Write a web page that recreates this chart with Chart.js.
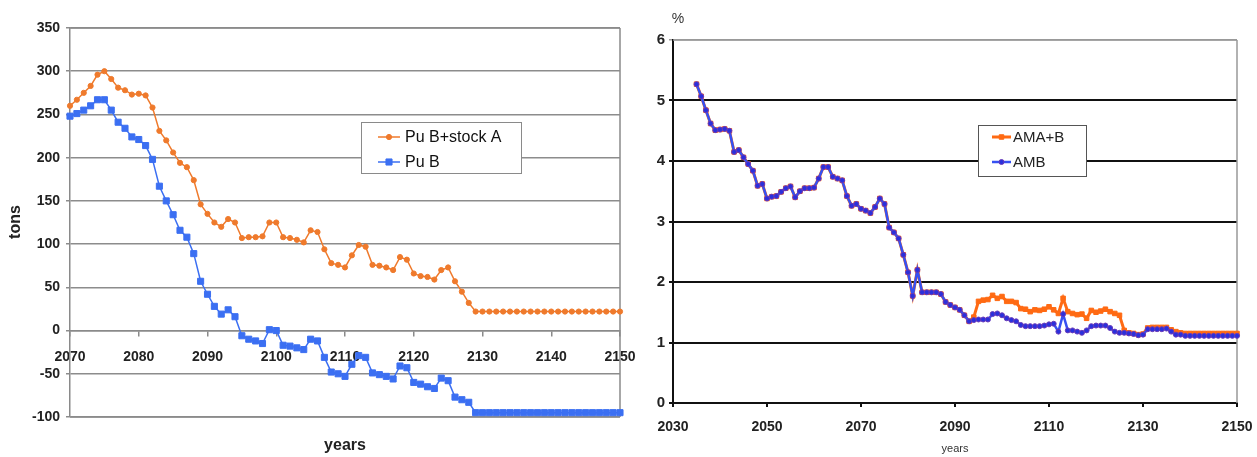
<!DOCTYPE html>
<html><head><meta charset="utf-8">
<script src="https://cdn.jsdelivr.net/npm/chart.js@4.4.1/dist/chart.umd.min.js"></script>
<style>
html,body{margin:0;padding:0;background:#fff;width:1257px;height:457px;overflow:hidden}
#c1{position:absolute;left:0;top:0;width:645px;height:457px}
#c2{position:absolute;left:640px;top:0;width:617px;height:457px}
</style></head><body>
<canvas id="c1" width="645" height="457"></canvas>
<canvas id="c2" width="617" height="457"></canvas>
<script>
// ---------- LEFT CHART DATA (tons) ----------
const leftYears = Array.from({length: 81}, (_, i) => 2070 + i);
const puBStockA = [
  260,267,275,283,296,300,291,281,278,273,
  274,272,258,231,220,206,194,189,174,146,
  135,125,120,129,125,107,108,108,109,125,
  125,108,107,105,102,116,114,94,78,76,
  73,87,99,97,76,75,73,70,85,82,
  66,63,62,59,70,73,57,45,32,22,
  22,22,22,22,22,22,22,22,22,22,
  22,22,22,22,22,22,22,22,22,22,22
];
const puB = [
  248,251,255,260,267,267,255,241,234,224,
  221,214,198,167,150,134,116,108,89,57,
  42,28,19,24,16,-6,-10,-12,-15,1,
  0,-17,-18,-20,-22,-10,-12,-31,-48,-50,
  -53,-39,-29,-31,-49,-51,-53,-56,-41,-43,
  -60,-62,-65,-67,-55,-58,-77,-80,-83,-95,
  -95,-95,-95,-95,-95,-95,-95,-95,-95,-95,
  -95,-95,-95,-95,-95,-95,-95,-95,-95,-95,-95
];
const leftLabels = ['Pu B+stock A', 'Pu B'];

// ---------- RIGHT CHART DATA (%) ----------
const rightYears = Array.from({length: 116}, (_, i) => 2035 + i);
const amaB = [
  5.27,5.07,4.84,4.62,4.51,4.52,4.53,4.50,4.15,4.18,
  4.06,3.95,3.84,3.59,3.62,3.38,3.41,3.42,3.49,3.55,
  3.58,3.40,3.50,3.55,3.55,3.56,3.71,3.90,3.90,3.74,
  3.71,3.68,3.42,3.26,3.29,3.21,3.18,3.14,3.24,3.38,
  3.29,2.90,2.82,2.72,2.45,2.16,1.77,2.20,1.83,1.83,
  1.83,1.83,1.80,1.67,1.62,1.58,1.54,1.45,1.35,1.42,
  1.68,1.70,1.71,1.78,1.73,1.76,1.68,1.68,1.66,1.56,
  1.55,1.51,1.54,1.53,1.55,1.59,1.54,1.48,1.73,1.51,
  1.48,1.46,1.47,1.40,1.53,1.50,1.52,1.55,1.51,1.48,
  1.45,1.20,1.16,1.15,1.13,1.14,1.24,1.25,1.25,1.25,
  1.25,1.21,1.18,1.16,1.15,1.15,1.15,1.15,1.15,1.15,
  1.15,1.15,1.15,1.15,1.15,1.15
];
const amb = [
  5.27,5.07,4.84,4.62,4.51,4.52,4.53,4.50,4.15,4.18,
  4.06,3.95,3.84,3.59,3.62,3.38,3.41,3.42,3.49,3.55,
  3.58,3.40,3.50,3.55,3.55,3.56,3.71,3.90,3.90,3.74,
  3.71,3.68,3.42,3.26,3.29,3.21,3.18,3.14,3.24,3.38,
  3.29,2.90,2.82,2.72,2.45,2.16,1.77,2.20,1.83,1.83,
  1.83,1.83,1.80,1.67,1.62,1.58,1.54,1.45,1.35,1.37,
  1.38,1.38,1.38,1.47,1.48,1.45,1.40,1.37,1.35,1.29,
  1.27,1.27,1.27,1.27,1.28,1.30,1.31,1.18,1.47,1.20,
  1.20,1.18,1.16,1.20,1.27,1.28,1.28,1.28,1.24,1.18,
  1.16,1.16,1.15,1.14,1.12,1.13,1.22,1.22,1.22,1.22,
  1.23,1.18,1.13,1.13,1.11,1.11,1.11,1.11,1.11,1.11,
  1.11,1.11,1.11,1.11,1.11,1.11
];
const rightLabels = ['AMA+B', 'AMB'];

const SANS = 'Arial, "Liberation Sans", sans-serif';
Chart.defaults.font.family = SANS;

function pts(xs, ys) { return xs.map((x, i) => ({x: x, y: ys[i]})); }
function noSidePad(s) { s.paddingLeft = 0; s.paddingRight = 0; }

const boxLegend = {
  id: 'boxLegend',
  afterDraw(chart, args, o) {
    const ctx = chart.ctx, b = o.box;
    ctx.save();
    ctx.fillStyle = '#fff';
    ctx.fillRect(b.x, b.y, b.w, b.h);
    ctx.strokeStyle = o.borderColor; ctx.lineWidth = 1;
    ctx.strokeRect(b.x + 0.5, b.y + 0.5, b.w, b.h);
    chart.data.datasets.forEach((ds, i) => {
      const y = b.y + o.rows[i];
      ctx.strokeStyle = ds.borderColor; ctx.lineWidth = ds.borderWidth;
      ctx.beginPath(); ctx.moveTo(b.x + o.x0, y); ctx.lineTo(b.x + o.x1, y); ctx.stroke();
      ctx.fillStyle = ds.pointBackgroundColor; ctx.strokeStyle = ds.pointBorderColor; ctx.lineWidth = ds.pointBorderWidth;
      Chart.helpers.drawPoint(ctx, {pointStyle: ds.pointStyle, radius: ds.pointRadius, borderWidth: ds.pointBorderWidth, rotation: 0}, b.x + (o.x0 + o.x1) / 2, y);
      ctx.fillStyle = o.color; ctx.font = o.font; ctx.textBaseline = 'middle'; ctx.textAlign = 'left';
      ctx.fillText(ds.label, b.x + o.tx, y + 1);
    });
    ctx.restore();
  }
};

const extraText = {
  id: 'extraText',
  afterDraw(chart, args, o) {
    const ctx = chart.ctx;
    (o.items || []).forEach(t => {
      ctx.save();
      ctx.translate(t.x, t.y);
      if (t.rot) ctx.rotate(t.rot);
      ctx.font = t.font; ctx.fillStyle = t.color || '#222';
      ctx.textAlign = 'center'; ctx.textBaseline = 'middle';
      ctx.fillText(t.text, 0, 0);
      ctx.restore();
    });
  }
};

const plotFrame = {
  id: 'plotFrame',
  beforeDatasetsDraw(chart, args, o) {
    const ctx = chart.ctx, a = chart.chartArea;
    ctx.save();
    ctx.strokeStyle = o.color; ctx.lineWidth = o.width;
    ctx.beginPath();
    if (o.sides.includes('top')) { ctx.moveTo(a.left, a.top); ctx.lineTo(a.right, a.top); }
    if (o.sides.includes('right')) { ctx.moveTo(a.right, a.top); ctx.lineTo(a.right, a.bottom); }
    if (o.sides.includes('bottom')) { ctx.moveTo(a.left, a.bottom); ctx.lineTo(a.right, a.bottom); }
    ctx.stroke();
    ctx.restore();
  }
};

// ---------- LEFT CHART ----------
new Chart(document.getElementById('c1'), {
  type: 'line',
  data: {
    datasets: [
      {label: leftLabels[0], data: pts(leftYears, puBStockA), borderColor: '#ef7a2c', borderWidth: 1.5,
       pointStyle: 'circle', pointRadius: 2.6, pointBackgroundColor: '#ef7a2c', pointBorderColor: '#ef7a2c', pointBorderWidth: 1, tension: 0},
      {label: leftLabels[1], data: pts(leftYears, puB), borderColor: '#3b6ff2', borderWidth: 1.5,
       pointStyle: 'rect', pointRadius: 4.3, pointBackgroundColor: '#3b6ff2', pointBorderColor: '#3b6ff2', pointBorderWidth: 1, tension: 0}
    ]
  },
  options: {
    responsive: false, animation: false, clip: false,
    layout: {padding: {top: 28, right: 25, bottom: 40, left: 0}, autoPadding: false},
    plugins: {
      legend: {display: false}, tooltip: {enabled: false},
      boxLegend: {box: {x: 361, y: 122, w: 160, h: 51}, rows: [15, 40], x0: 17, x1: 39, tx: 44,
                  borderColor: '#8a8a8a', color: '#111', font: '16px ' + SANS},
      extraText: {items: [
        {text: 'years', x: 345, y: 446, font: 'bold 16px ' + SANS, color: '#222'},
        {text: 'tons', x: 16, y: 222, rot: -Math.PI / 2, font: 'bold 16px ' + SANS, color: '#222'}
      ]},
      plotFrame: {color: '#8a8a8a', width: 1.5, sides: ['top', 'right', 'bottom']}
    },
    scales: {
      x: {type: 'linear', position: {y: 0}, min: 2070, max: 2150,
          grid: {drawOnChartArea: false, drawTicks: true, tickLength: 5, color: '#8a8a8a', lineWidth: 1.5},
          border: {display: true, color: '#8a8a8a', width: 1.5},
          ticks: {stepSize: 10, padding: 13, color: '#222', font: {size: 14, weight: 'bold'}, maxRotation: 0,
                  callback: v => String(v)},
          afterFit: noSidePad},
      y: {type: 'linear', position: 'left', min: -100, max: 350,
          grid: {color: '#8c8c8c', lineWidth: 1.5, tickLength: 4},
          border: {display: true, color: '#8a8a8a', width: 1.5},
          ticks: {stepSize: 50, padding: 6, color: '#222', font: {size: 14, weight: 'bold'}},
          afterFit: s => { s.width = 70; }}
    }
  },
  plugins: [plotFrame, boxLegend, extraText]
});

// ---------- RIGHT CHART ----------
new Chart(document.getElementById('c2'), {
  type: 'line',
  data: {
    datasets: [
      {label: rightLabels[0], data: pts(rightYears, amaB), borderColor: '#ff6a13', borderWidth: 3, order: 1,
       pointStyle: 'rect', pointRadius: 3.2, pointBackgroundColor: '#ff6a13', pointBorderColor: '#ff6a13', pointBorderWidth: 1, tension: 0},
      {label: rightLabels[1], data: pts(rightYears, amb), borderColor: '#3650f2', borderWidth: 2.5, order: 0,
       pointStyle: 'circle', pointRadius: 2.5, pointBackgroundColor: '#2a30dc', pointBorderColor: '#6a3ab8', pointBorderWidth: 1, tension: 0}
    ]
  },
  options: {
    responsive: false, animation: false, clip: false,
    layout: {padding: {top: 40, right: 20, bottom: 24, left: 0}, autoPadding: false},
    plugins: {
      legend: {display: false}, tooltip: {enabled: false},
      boxLegend: {box: {x: 338, y: 125, w: 108, h: 51}, rows: [12, 37], x0: 14, x1: 33, tx: 35,
                  borderColor: '#555', color: '#222', font: '15px ' + SANS},
      extraText: {items: [
        {text: '%', x: 38, y: 19, font: '14px ' + SANS, color: '#333'},
        {text: 'years', x: 315, y: 449, font: '11px ' + SANS, color: '#333'}
      ]},
      plotFrame: {color: '#999', width: 1.5, sides: ['top', 'right']}
    },
    scales: {
      x: {type: 'linear', position: 'bottom', min: 2030, max: 2150,
          grid: {drawOnChartArea: false, drawTicks: true, tickLength: 4, color: '#111', lineWidth: 2},
          border: {display: true, color: '#111', width: 2},
          ticks: {stepSize: 20, padding: 12, color: '#222', font: {size: 14, weight: 'bold'}, maxRotation: 0,
                  callback: v => String(v)},
          afterFit: s => { s.height = 30; noSidePad(s); }},
      y: {type: 'linear', position: 'left', min: 0, max: 6,
          grid: {color: c => (c.tick && c.tick.value === 6) ? '#999' : '#111', lineWidth: c => (c.tick && c.tick.value === 6) ? 1.5 : 2, tickLength: 4},
          border: {display: true, color: '#111', width: 2},
          ticks: {stepSize: 1, padding: 4, color: '#222', font: {size: 15, weight: 'bold'}},
          afterFit: s => { s.width = 33; }}
    }
  },
  plugins: [plotFrame, boxLegend, extraText]
});
</script>
</body></html>
